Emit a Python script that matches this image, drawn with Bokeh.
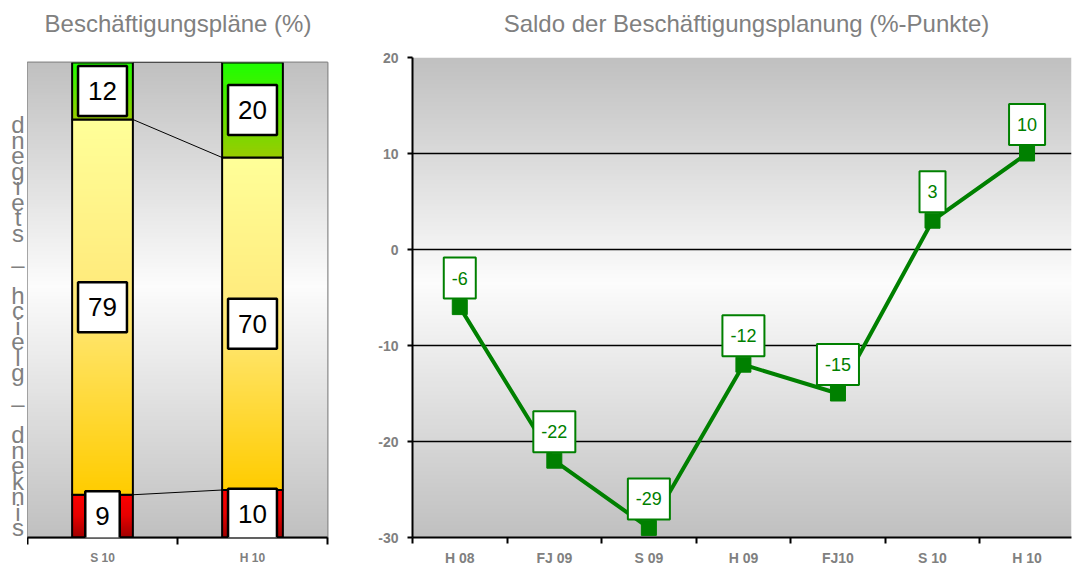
import numpy as np
from bokeh.plotting import figure
from bokeh.layouts import row, column
from bokeh.models import Label, FixedTicker, Range1d
from bokeh.core.properties import value
from bokeh.embed import file_html
from bokeh.resources import INLINE

# ---------------- data ----------------
left_title = "Beschäftigungspläne (%)"
left_categories = ["S 10", "H 10"]
sinkend = [9, 10]
gleich = [79, 70]
steigend = [12, 20]
left_axis_text = "sinkend – gleich – steigend"

right_title = "Saldo der Beschäftigungsplanung (%-Punkte)"
right_categories = ["H 08", "FJ 09", "S 09", "H 09", "FJ10", "S 10", "H 10"]
saldo = [-6, -22, -29, -12, -15, 3, 10]
right_yticks = [-30, -20, -10, 0, 10, 20]

FONT = "Liberation Sans"
GRAY = "#808080"
GREEN = "#008000"


def grad_image(stops, n=240):
    """Vertical gradient; stops given as (t, rgb) with t=0 top, t=1 bottom."""
    t = np.linspace(0, 1, n)
    pos = [s[0] for s in stops]
    cols = np.array([s[1] for s in stops], dtype=float)
    rgb = np.stack([np.interp(t, pos, cols[:, k]) for k in range(3)], axis=1)
    rgb = rgb[::-1]  # row 0 is drawn at the bottom
    img = np.empty((n, 1), dtype=np.uint32)
    view = img.view(dtype=np.uint8).reshape((n, 1, 4))
    view[:, 0, 0] = rgb[:, 0].round()
    view[:, 0, 1] = rgb[:, 1].round()
    view[:, 0, 2] = rgb[:, 2].round()
    view[:, 0, 3] = 255
    return img


def bare(fig):
    fig.axis.visible = False
    fig.grid.visible = False
    fig.outline_line_color = None
    return fig


bg_grad = grad_image([(0.0, (192, 192, 192)), (0.47, (252, 252, 252)), (1.0, (192, 192, 192))])
red_grad = grad_image([(0.0, (255, 0, 0)), (0.5, (230, 0, 0)), (1.0, (160, 0, 0))])
yellow_grad = grad_image([(0.0, (255, 255, 153)), (0.5, (255, 232, 120)), (1.0, (255, 204, 0))])
green_grad = grad_image([(0.0, (30, 255, 0)), (1.0, (153, 204, 0))])

HEAD = 46
W_LEFT = 368
R_LEFT, R_FRAME, R_RIGHT = 44, 659, 1
TOP_L, FH_L, BOT = 62 - HEAD, 475, 35
TOP_R, FH_R = 57 - HEAD, 480

common = dict(output_backend="svg", toolbar_location=None, title=None)

# ---------------- title strips ----------------
t1 = bare(figure(frame_width=W_LEFT, frame_height=HEAD, x_range=Range1d(0, W_LEFT),
                 y_range=Range1d(0, HEAD), min_border=0, **common))
t1.text(x=[177.5], y=[HEAD - 23], text=[left_title], text_align="center",
        text_baseline="middle", text_font=value(FONT), text_font_size="24px", text_color=GRAY)
t2 = bare(figure(frame_width=R_FRAME, frame_height=HEAD, x_range=Range1d(0, R_FRAME),
                 y_range=Range1d(0, HEAD), min_border=0, min_border_left=R_LEFT,
                 min_border_right=R_RIGHT, **common))
t2.text(x=[746 - W_LEFT - R_LEFT], y=[HEAD - 23], text=[right_title], text_align="center",
        text_baseline="middle", text_font=value(FONT), text_font_size="24px", text_color=GRAY)

# ---------------- stacked-letter axis column ----------------
p0 = bare(figure(frame_width=27, frame_height=FH_L, x_range=Range1d(0, 27), y_range=Range1d(0, FH_L),
                 min_border_left=0, min_border_right=0, min_border_top=TOP_L,
                 min_border_bottom=BOT, **common))
lt = [ch for ch in left_axis_text if ch != " "]
ly = [10 + 15.5 * j for j, ch in enumerate(left_axis_text) if ch != " "]
lx = [17.5] * len(lt)
p0.text(x=lx, y=ly, text=lt, text_align="center", text_baseline="middle",
        text_font=value(FONT), text_font_size="24px", text_color=GRAY)

# ---------------- left chart ----------------
nL = len(left_categories)
p1 = figure(frame_width=300, frame_height=FH_L,
            x_range=Range1d(0, nL), y_range=Range1d(0, 100),
            min_border_left=0, min_border_right=W_LEFT - 27 - 300,
            min_border_top=TOP_L, min_border_bottom=BOT, **common)
p1.image_rgba(image=[bg_grad], x=0, y=0, dw=nL, dh=100, level="image")

xc = [i + 0.5 for i in range(nL)]
bw = 0.405
segments = [(sinkend, red_grad), (gleich, yellow_grad), (steigend, green_grad)]
bottom = [0.0] * nL
levels = []
for vals, g in segments:
    p1.image_rgba(image=[g] * nL, x=[c - bw / 2 for c in xc], y=bottom,
                  dw=[bw] * nL, dh=vals)
    top = [b + v for b, v in zip(bottom, vals)]
    p1.quad(left=[c - bw / 2 for c in xc], right=[c + bw / 2 for c in xc],
            bottom=bottom, top=top, fill_alpha=0, line_color="black", line_width=2)
    for c, b, v in zip(xc, bottom, vals):
        p1.add_layout(Label(x=c, y=b + v / 2, text=str(v), text_align="center",
                            text_baseline="middle", text_font=FONT, text_font_size="26px",
                            text_color="black", background_fill_color="white",
                            border_line_color="black", border_line_width=2.5,
                            padding=(10, 16)))
    levels.append(top)
    bottom = top

# series lines between the stacked bars
for lv in levels:
    p1.segment(x0=xc[0] + bw / 2, y0=lv[0], x1=xc[1] - bw / 2, y1=lv[1],
               line_color="black", line_width=1)

p1.grid.visible = False
p1.yaxis.visible = False
p1.outline_line_color = "#8c8c8c"
p1.outline_line_width = 2

ax = p1.xaxis[0]
ax.ticker = FixedTicker(ticks=xc, minor_ticks=list(range(nL + 1)))
ax.major_label_overrides = {c: lab for c, lab in zip(xc, left_categories)}
ax.major_tick_out = 0
ax.major_tick_in = 0
ax.minor_tick_out = 7
ax.minor_tick_in = 0
ax.minor_tick_line_color = "black"
ax.minor_tick_line_width = 2
ax.axis_line_color = "black"
ax.axis_line_width = 2
ax.major_label_text_font = FONT
ax.major_label_text_font_style = "bold"
ax.major_label_text_font_size = "12px"
ax.major_label_text_color = GRAY
ax.major_label_standoff = 6

# ---------------- right chart ----------------
nR = len(right_categories)
p2 = figure(frame_width=R_FRAME, frame_height=FH_R,
            x_range=Range1d(0, 6.97), y_range=Range1d(-30, 20),
            min_border_left=R_LEFT, min_border_right=R_RIGHT,
            min_border_top=TOP_R, min_border_bottom=BOT + (FH_L + TOP_L - FH_R - TOP_R), **common)
p2.image_rgba(image=[bg_grad], x=0, y=-30, dw=6.97, dh=50, level="image")

xr = [i + 0.5 for i in range(nR)]
p2.line(xr, saldo, line_color=GREEN, line_width=4)
p2.scatter(xr, saldo, marker="square", size=15, color=GREEN)
for x, v in zip(xr, saldo):
    p2.add_layout(Label(x=x, y=v, y_offset=29, text=str(v), text_align="center",
                        text_baseline="middle", text_font=FONT, text_font_size="18px",
                        text_color=GREEN, background_fill_color="white",
                        border_line_color=GREEN, border_line_width=2,
                        padding=(8, 14)))

p2.xgrid.visible = False
p2.ygrid.ticker = FixedTicker(ticks=right_yticks)
p2.ygrid.grid_line_color = "black"
p2.ygrid.grid_line_width = 1.5
p2.outline_line_color = None

ay = p2.yaxis[0]
ay.ticker = FixedTicker(ticks=right_yticks)
ay.major_label_overrides = {t: str(t) for t in right_yticks}
ay.axis_line_color = "black"
ay.axis_line_width = 2
ay.major_tick_out = 5
ay.major_tick_in = 0
ay.major_tick_line_color = "black"
ay.major_tick_line_width = 2
ay.minor_tick_out = 0
ay.major_label_text_font = FONT
ay.major_label_text_font_style = "bold"
ay.major_label_text_font_size = "14px"
ay.major_label_text_color = GRAY
ay.major_label_standoff = 9

bx = p2.xaxis[0]
bx.ticker = FixedTicker(ticks=xr, minor_ticks=list(range(nR + 1)))
bx.major_label_overrides = {c: lab for c, lab in zip(xr, right_categories)}
bx.major_tick_out = 0
bx.major_tick_in = 0
bx.minor_tick_out = 6
bx.minor_tick_in = 0
bx.minor_tick_line_color = "black"
bx.minor_tick_line_width = 2
bx.axis_line_color = "black"
bx.axis_line_width = 2
bx.major_label_text_font = FONT
bx.major_label_text_font_style = "bold"
bx.major_label_text_font_size = "14px"
bx.major_label_text_color = GRAY
bx.major_label_standoff = 6

layout = row(column(t1, row(p0, p1)), column(t2, p2))
open("out.html", "w").write(file_html(layout, INLINE))
